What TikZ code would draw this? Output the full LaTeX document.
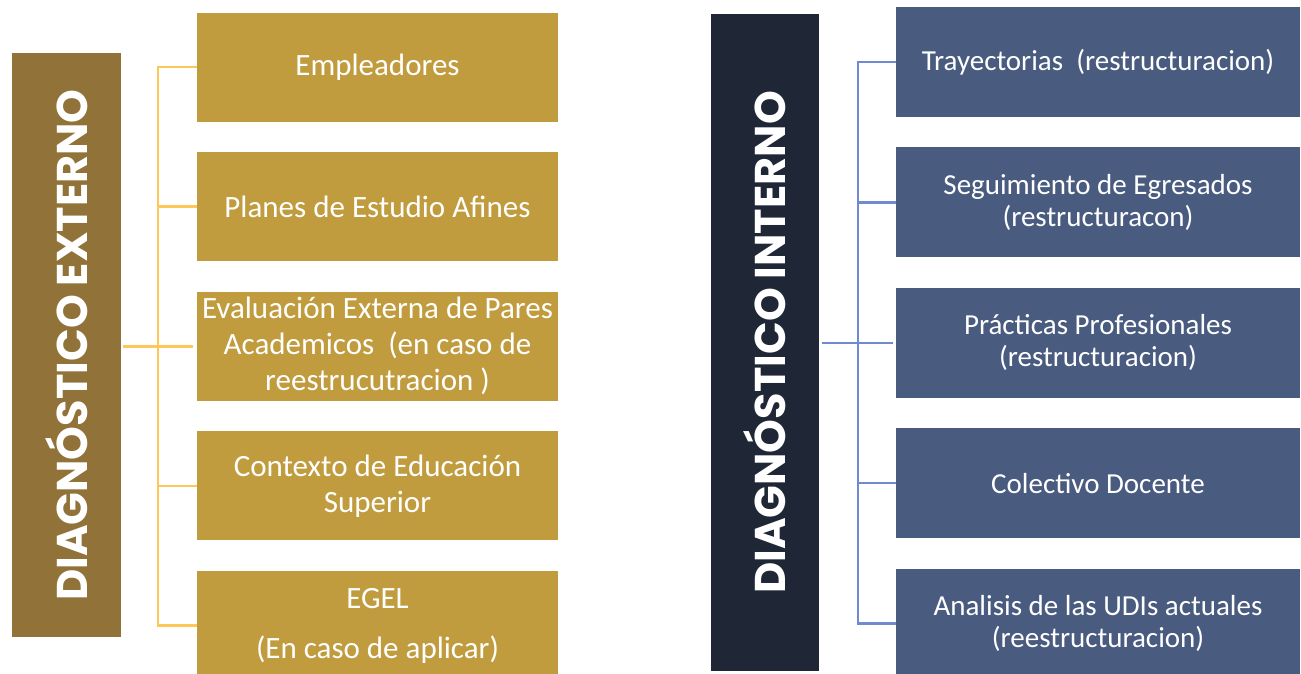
\documentclass[tikz,border=0pt]{standalone}
\usepackage{fontspec}
\setmainfont{Carlito}
\newfontfamily\headfont{Poppins}
\usetikzlibrary{positioning}
\definecolor{extbar}{HTML}{917238}
\definecolor{extbox}{HTML}{C09C3E}
\definecolor{extline}{HTML}{FFC65A}
\definecolor{intbar}{HTML}{1F2737}
\definecolor{intbox}{HTML}{4A5B80}
\definecolor{intline}{HTML}{6F8AD0}
\begin{document}
\begin{tikzpicture}
  [x=1pt, y=-1pt, align=center, text=white,
    bar/.style={%
      rectangle, inner sep=0pt, rotate=90,
      font=\headfont\bfseries\fontsize{43}{43}\selectfont
    },
    extitem/.style={%
      rectangle, fill=extbox, inner sep=0pt,
      minimum width=361pt, minimum height=109pt,
      font=\fontsize{31}{36}\selectfont
    },
    intitem/.style={%
      rectangle, fill=intbox, inner sep=0pt,
      minimum width=404pt, minimum height=110pt,
      font=\fontsize{29}{32}\selectfont
    },
    link/.style={%
      line width=2.5pt
    },
  ]

  \useasboundingbox (0,0) rectangle (1301,673);

  \node[bar, fill=extbar, minimum width=584pt, minimum height=109pt]
    (ext) at (66.5,345) {DIAGNÓSTICO EXTERNO};

  \node[extitem] (e1) at (377.5,67) {Empleadores};
  \node[extitem] (e2) [below=30.25pt of e1] {Planes de Estudio Afines};
  \node[extitem] (e3) [below=30.25pt of e2]
    {Evaluación Externa de Pares\\Academicos\ \ (en caso de\\reestrucutracion )};
  \node[extitem] (e4) [below=30.25pt of e3] {Contexto de Educación\\Superior};
  \node[extitem] (e5) [below=30.25pt of e4] {EGEL\\[14pt](En caso de aplicar)};

  \coordinate (etop) at ([xshift=-39pt]e1.west);
  \coordinate (ebot) at ([xshift=-39pt]e5.west);
  \draw[link, extline] (e1.west) -- (etop) -- (ebot) -- (e5.west);
  \draw[link, extline, shorten >=2pt, shorten <=4pt]
    (e3.west) -- (e3.west -| ext.south);
  \foreach \i in {2,4}
    \draw[link, extline] (e\i.west) -- (e\i.west -| etop);

  \node[bar, fill=intbar, minimum width=657pt, minimum height=108pt]
    (int) at (765,342.5) {DIAGNÓSTICO INTERNO};

  \node[intitem] (i1) at (1098,62) {Trayectorias\ \ (restructuracion)};
  \node[intitem] (i2) [below=30pt of i1] {Seguimiento de Egresados\\(restructuracon)};
  \node[intitem] (i3) [below=30pt of i2] {Prácticas Profesionales\\(restructuracion)};
  \node[intitem] (i4) [below=30pt of i3] {Colectivo Docente};
  \node[intitem] (i5) [below=30pt of i4]
    {Analisis de las UDIs actuales\\(reestructuracion)};

  \coordinate (itop) at ([xshift=-38pt]i1.west);
  \coordinate (ibot) at ([xshift=-38pt]i5.west);
  \draw[link, intline] (i1.west) -- (itop) -- (ibot) -- (i5.west);
  \draw[link, intline, shorten >=3pt, shorten <=3pt]
    (i3.west) -- (i3.west -| int.south);
  \foreach \i in {2,4}
    \draw[link, intline] (i\i.west) -- (i\i.west -| itop);

\end{tikzpicture}
\end{document}
